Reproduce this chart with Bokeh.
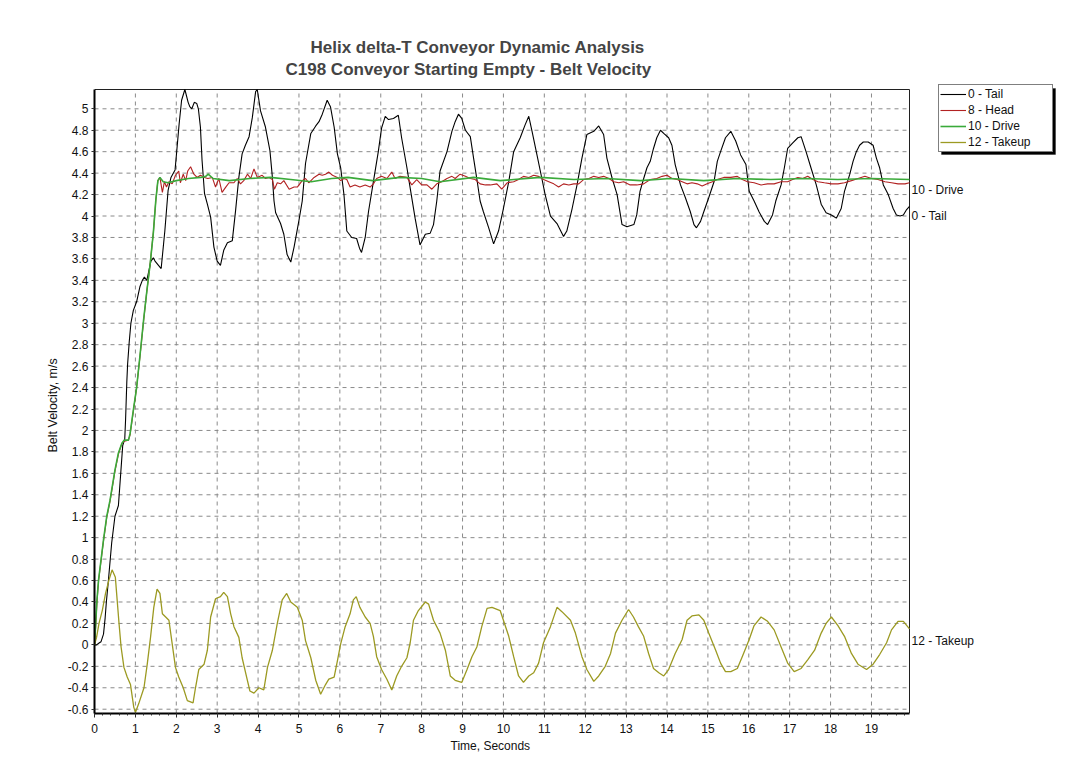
from bokeh.plotting import figure
from bokeh.models import Range1d, FixedTicker, Legend, LegendItem, Label, Title, BoxAnnotation
from bokeh.embed import file_html
from bokeh.resources import INLINE

# ---------------- data ----------------
title_line1 = "Helix delta-T Conveyor Dynamic Analysis"
title_line2 = "C198 Conveyor Starting Empty - Belt Velocity"
x_label = "Time, Seconds"
y_label = "Belt Velocity, m/s"
series_names = ["0 - Tail", "8 - Head", "10 - Drive", "12 - Takeup"]
end_labels = ["10 - Drive", "0 - Tail", "12 - Takeup"]
end_label_y = [4.245, 4.00, 0.04]

x_min, x_max = 0.0, 19.93
y_min, y_max = -0.64, 5.18

x_ticks = [0, 1, 2, 3, 4, 5, 6, 7, 8, 9, 10, 11, 12, 13, 14, 15, 16, 17, 18, 19]
y_ticks = [-0.6, -0.4, -0.2, 0.0, 0.2, 0.4, 0.6, 0.8, 1.0, 1.2, 1.4, 1.6, 1.8, 2.0,
           2.2, 2.4, 2.6, 2.8, 3.0, 3.2, 3.4, 3.6, 3.8, 4.0, 4.2, 4.4, 4.6, 4.8, 5.0]
y_tick_labels = ["-0.6", "-0.4", "-0.2", "0", "0.2", "0.4", "0.6", "0.8", "1", "1.2",
                 "1.4", "1.6", "1.8", "2", "2.2", "2.4", "2.6", "2.8", "3", "3.2", "3.4",
                 "3.6", "3.8", "4", "4.2", "4.4", "4.6", "4.8", "5"]

tail_t = [0, 0.05, 0.12, 0.16, 0.22, 0.26, 0.29, 0.34, 0.42, 0.50, 0.585, 0.66, 0.69, 0.74,
          0.76, 0.79, 0.81, 0.85, 0.89, 0.95, 1.03, 1.11, 1.17, 1.22, 1.28, 1.38, 1.44, 1.48,
          1.63, 1.72, 1.80, 1.87, 1.97, 2.01, 2.07, 2.13, 2.21, 2.29, 2.33, 2.38, 2.44, 2.50,
          2.54, 2.59, 2.63, 2.69, 2.76, 2.84, 2.92, 3.00, 3.08, 3.16, 3.25, 3.37, 3.45, 3.53,
          3.61, 3.69, 3.78, 3.86, 3.94, 3.98, 4.06, 4.18, 4.29, 4.35, 4.39, 4.43, 4.55, 4.63,
          4.71, 4.80, 4.88, 5.00, 5.08, 5.16, 5.29, 5.41, 5.49, 5.57, 5.69, 5.77, 5.86, 5.94,
          6.02, 6.10, 6.17, 6.29, 6.41, 6.48, 6.53, 6.62, 6.70, 6.82, 6.94, 7.02, 7.11, 7.19,
          7.31, 7.43, 7.51, 7.64, 7.72, 7.84, 7.96, 8.09, 8.21, 8.29, 8.37, 8.45, 8.62, 8.74,
          8.82, 8.90, 8.98, 9.07, 9.19, 9.27, 9.36, 9.43, 9.51, 9.64, 9.76, 9.88, 10.00, 10.13,
          10.25, 10.41, 10.53, 10.62, 10.70, 10.82, 10.94, 11.02, 11.15, 11.31, 11.47, 11.55,
          11.68, 11.80, 11.92, 12.04, 12.21, 12.33, 12.45, 12.53, 12.66, 12.78, 12.90, 13.02,
          13.19, 13.26, 13.34, 13.43, 13.51, 13.59, 13.67, 13.75, 13.84, 13.92, 14.04, 14.12,
          14.20, 14.33, 14.45, 14.57, 14.66, 14.72, 14.82, 14.90, 15.02, 15.15, 15.23, 15.31,
          15.43, 15.56, 15.68, 15.80, 15.93, 16.01, 16.13, 16.25, 16.38, 16.46, 16.58, 16.66,
          16.79, 16.87, 16.95, 17.07, 17.20, 17.28, 17.40, 17.52, 17.65, 17.77, 17.89, 18.02,
          18.14, 18.26, 18.34, 18.47, 18.55, 18.63, 18.71, 18.80, 18.92, 19.04, 19.12, 19.20,
          19.29, 19.41, 19.53, 19.61, 19.70, 19.78, 19.86, 19.93]
tail_v = [0.0, 0.0, 0.02, 0.03, 0.10, 0.25, 0.40, 0.60, 0.95, 1.20, 1.30, 1.70, 1.86, 1.92,
          2.10, 2.45, 2.62, 2.83, 3.00, 3.12, 3.20, 3.34, 3.40, 3.43, 3.40, 3.58, 3.61, 3.58,
          3.51, 3.86, 4.24, 4.36, 4.43, 4.60, 4.86, 5.08, 5.18, 5.06, 5.02, 5.00, 5.06, 5.05,
          5.00, 4.83, 4.52, 4.21, 4.11, 3.99, 3.71, 3.58, 3.54, 3.68, 3.75, 3.77, 4.05, 4.36,
          4.58, 4.66, 4.74, 4.92, 5.16, 5.18, 4.98, 4.83, 4.61, 4.36, 4.14, 4.03, 3.93, 3.83,
          3.64, 3.57, 3.71, 3.96, 4.14, 4.49, 4.77, 4.84, 4.88, 4.95, 5.08, 5.02, 4.83, 4.58,
          4.45, 4.20, 3.86, 3.80, 3.79, 3.70, 3.66, 3.80, 4.04, 4.32, 4.60, 4.82, 4.93, 4.90,
          4.91, 4.94, 4.73, 4.45, 4.26, 3.98, 3.73, 3.83, 3.84, 3.92, 4.14, 4.42, 4.60, 4.79,
          4.88, 4.95, 4.91, 4.80, 4.74, 4.54, 4.32, 4.14, 4.04, 3.89, 3.74, 3.86, 4.07, 4.32,
          4.60, 4.73, 4.85, 4.93, 4.79, 4.57, 4.35, 4.20, 4.00, 3.93, 3.81, 3.86,
          4.07, 4.29, 4.54, 4.76, 4.79, 4.84, 4.76, 4.54, 4.35, 4.20, 3.92, 3.90,
          3.92, 4.01, 4.23, 4.35, 4.45, 4.51, 4.63, 4.73, 4.80, 4.77, 4.73, 4.66,
          4.48, 4.29, 4.17, 4.04, 3.92, 3.89, 3.95, 4.04, 4.17, 4.32, 4.51, 4.60,
          4.73, 4.79, 4.70, 4.57, 4.48, 4.23, 4.14, 4.04, 3.95, 3.92, 4.01, 4.14,
          4.29, 4.45, 4.63, 4.68, 4.73, 4.74, 4.60, 4.45, 4.29, 4.11, 4.03, 4.01,
          3.98, 4.07, 4.23, 4.39, 4.51, 4.60, 4.66, 4.69, 4.69, 4.66, 4.54, 4.45,
          4.29, 4.20, 4.07, 4.01, 4.00, 4.01, 4.06, 4.09]

head_t = [0, 0.03, 0.06, 0.10, 0.22, 0.30, 0.38, 0.50, 0.585, 0.67, 0.73, 0.83, 0.87, 0.95,
          1.03, 1.11, 1.20, 1.28, 1.36, 1.44, 1.50, 1.55, 1.60, 1.66, 1.71, 1.76, 1.82, 1.90,
          1.98, 2.06, 2.10, 2.17, 2.23, 2.28, 2.35, 2.43, 2.51, 2.59, 2.69, 2.77, 2.88, 2.96,
          3.04, 3.12, 3.21, 3.29, 3.41, 3.49, 3.57, 3.65, 3.74, 3.82, 3.90, 3.98, 4.10, 4.18,
          4.27, 4.35, 4.40, 4.47, 4.55, 4.63, 4.76, 4.88, 4.96, 5.08, 5.16, 5.24, 5.37, 5.49,
          5.57, 5.65, 5.73, 5.82, 5.94, 6.02, 6.10, 6.17, 6.25, 6.37, 6.49, 6.62, 6.74, 6.82,
          6.90, 7.02, 7.15, 7.27, 7.35, 7.47, 7.64, 7.76, 7.88, 8.00, 8.13, 8.25, 8.37, 8.49,
          8.62, 8.74, 8.82, 8.94, 9.07, 9.19, 9.31, 9.43, 9.56, 9.68, 9.84, 9.96, 10.09, 10.25,
          10.37, 10.49, 10.62, 10.74, 10.86, 10.98, 11.11, 11.23, 11.35, 11.47, 11.60, 11.72,
          11.84, 11.96, 12.09, 12.21, 12.33, 12.45, 12.58, 12.70, 12.82, 12.94, 13.10, 13.26,
          13.43, 13.59, 13.75, 13.88, 14.00, 14.12, 14.25, 14.37, 14.49, 14.61, 14.74, 14.86,
          14.98, 15.11, 15.23, 15.39, 15.56, 15.72, 15.84, 15.97, 16.13, 16.30, 16.46, 16.62,
          16.79, 16.95, 17.07, 17.20, 17.32, 17.44, 17.57, 17.69, 17.85, 18.02, 18.18, 18.34,
          18.51, 18.67, 18.84, 19.00, 19.16, 19.33, 19.49, 19.65, 19.82, 19.93]
head_v = [0.0, 0.18, 0.40, 0.60, 0.97, 1.19, 1.34, 1.62, 1.78, 1.88, 1.90, 1.91, 1.96, 2.18,
          2.40, 2.68, 3.02, 3.30, 3.55, 3.85, 4.15, 4.33, 4.36, 4.22, 4.32, 4.27, 4.32, 4.30,
          4.38, 4.42, 4.31, 4.39, 4.33, 4.42, 4.46, 4.39, 4.36, 4.38, 4.36, 4.35, 4.36, 4.27,
          4.35, 4.22, 4.27, 4.31, 4.31, 4.35, 4.30, 4.33, 4.39, 4.35, 4.44, 4.36, 4.38, 4.35,
          4.36, 4.34, 4.25, 4.31, 4.30, 4.33, 4.25, 4.27, 4.27, 4.33, 4.35, 4.31, 4.36, 4.39,
          4.38, 4.39, 4.41, 4.38, 4.36, 4.33, 4.35, 4.34, 4.27, 4.29, 4.27, 4.29, 4.27, 4.30,
          4.35, 4.37, 4.35, 4.41, 4.35, 4.37, 4.36, 4.29, 4.34, 4.29, 4.29, 4.25, 4.30, 4.32,
          4.35, 4.37, 4.35, 4.39, 4.37, 4.35, 4.34, 4.30, 4.29, 4.29, 4.30, 4.25, 4.31, 4.32,
          4.34, 4.37, 4.36, 4.38, 4.37, 4.34, 4.32, 4.30, 4.27, 4.30, 4.29, 4.30,
          4.30, 4.34, 4.35, 4.37, 4.36, 4.37, 4.35, 4.32, 4.31, 4.32, 4.29, 4.29,
          4.30, 4.34, 4.35, 4.37, 4.38, 4.35, 4.34, 4.32, 4.30, 4.31, 4.30, 4.28,
          4.30, 4.32, 4.34, 4.36, 4.36, 4.37, 4.34, 4.32, 4.31, 4.29, 4.30, 4.30,
          4.32, 4.32, 4.34, 4.36, 4.35, 4.37, 4.34, 4.32, 4.31, 4.30, 4.30, 4.31,
          4.33, 4.35, 4.37, 4.35, 4.34, 4.32, 4.31, 4.30, 4.30, 4.31]

drive_t = [0, 0.03, 0.06, 0.10, 0.22, 0.30, 0.38, 0.50, 0.585, 0.67, 0.73, 0.83, 0.87, 0.95,
           1.03, 1.11, 1.20, 1.28, 1.36, 1.44, 1.50, 1.55, 1.60, 1.68, 1.80, 2.00, 2.30, 2.60,
           2.72, 2.78, 2.90, 3.30, 3.80, 4.30, 4.80, 5.30, 5.80, 6.20, 6.80, 7.47, 8.00, 8.45,
           9.27, 9.92, 10.90, 11.72, 12.53, 13.35, 14.08, 14.90, 15.72, 16.54, 17.36, 18.18,
           19.00, 19.93]
drive_v = [0.0, 0.20, 0.42, 0.61, 0.98, 1.20, 1.35, 1.63, 1.79, 1.88, 1.91, 1.91, 1.97, 2.19,
           2.40, 2.69, 3.03, 3.30, 3.55, 3.85, 4.15, 4.33, 4.36, 4.32, 4.31, 4.33, 4.35, 4.36,
           4.37, 4.39, 4.35, 4.33, 4.35, 4.36, 4.34, 4.32, 4.35, 4.36, 4.33, 4.36, 4.35, 4.32,
           4.36, 4.33, 4.36, 4.34, 4.35, 4.33, 4.35, 4.33, 4.35, 4.34, 4.35, 4.34,
           4.35, 4.34]

takeup_t = [0, 0.05, 0.11, 0.19, 0.27, 0.35, 0.43, 0.51, 0.60, 0.65, 0.72, 0.80, 0.88, 0.96,
            1.00, 1.08, 1.21, 1.29, 1.37, 1.45, 1.53, 1.60, 1.66, 1.74, 1.82, 1.90, 1.98, 2.06,
            2.17, 2.27, 2.41, 2.47, 2.55, 2.68, 2.76, 2.84, 2.96, 3.08, 3.16, 3.25, 3.33, 3.41,
            3.53, 3.61, 3.72, 3.80, 3.90, 4.02, 4.14, 4.23, 4.35, 4.47, 4.59, 4.70, 4.80, 4.96,
            5.08, 5.16, 5.29, 5.41, 5.53, 5.65, 5.73, 5.86, 5.94, 6.02, 6.13, 6.25, 6.33, 6.40,
            6.49, 6.62, 6.74, 6.82, 6.90, 7.02, 7.15, 7.27, 7.39, 7.51, 7.64, 7.72, 7.80, 7.92,
            8.09, 8.17, 8.29, 8.45, 8.58, 8.70, 8.82, 8.98, 9.11, 9.23, 9.35, 9.47, 9.60, 9.72,
            9.92, 10.00, 10.13, 10.25, 10.37, 10.49, 10.62, 10.74, 10.86, 10.98, 11.15, 11.31,
            11.43, 11.64, 11.76, 11.92, 12.04, 12.21, 12.33, 12.49, 12.62, 12.74, 12.90, 13.06,
            13.18, 13.30, 13.43, 13.55, 13.67, 13.80, 13.92, 14.04, 14.20, 14.37, 14.49, 14.61,
            14.78, 14.90, 15.02, 15.19, 15.31, 15.43, 15.56, 15.72, 15.84, 16.01, 16.13, 16.30,
            16.46, 16.62, 16.79, 16.95, 17.11, 17.28, 17.44, 17.61, 17.77, 17.89, 18.02, 18.18,
            18.34, 18.51, 18.67, 18.88, 19.04, 19.20, 19.37, 19.49, 19.65, 19.78, 19.93]
takeup_v = [0.0, 0.07, 0.20, 0.32, 0.48, 0.60, 0.70, 0.63, 0.20, -0.02, -0.21, -0.30, -0.37,
            -0.58, -0.63, -0.55, -0.40, -0.18, 0.07, 0.35, 0.52, 0.48, 0.29, 0.26, 0.23, 0.01,
            -0.21, -0.30, -0.40, -0.52, -0.54, -0.40, -0.23, -0.18, -0.05, 0.26, 0.43, 0.45,
            0.49, 0.45, 0.29, 0.17, 0.07, -0.12, -0.30, -0.43, -0.45, -0.40, -0.42, -0.21,
            -0.05, 0.20, 0.42, 0.48, 0.40, 0.35, 0.23, 0.04, -0.12, -0.33, -0.46, -0.37, -0.32,
            -0.30, -0.15, 0.01, 0.17, 0.29, 0.42, 0.45, 0.35, 0.26, 0.20, 0.08, -0.11, -0.23,
            -0.32, -0.42, -0.29, -0.20, -0.12, 0.02, 0.23, 0.32, 0.40, 0.38, 0.23, 0.11, -0.05,
            -0.29, -0.33, -0.35, -0.23, -0.11, -0.02, 0.17, 0.34, 0.35, 0.32, 0.23, 0.08, -0.11,
            -0.29, -0.35, -0.29, -0.26, -0.17, 0.02, 0.17, 0.35, 0.31, 0.23, 0.11, -0.11, -0.23,
            -0.34, -0.29, -0.20, -0.08, 0.11, 0.23, 0.33, 0.26, 0.17, 0.08, -0.08, -0.22, -0.26,
            -0.29, -0.23, -0.08, 0.05, 0.23, 0.27, 0.28, 0.23, 0.11, -0.05, -0.17, -0.25, -0.25,
            -0.22, -0.11, 0.05, 0.18, 0.26, 0.22, 0.14, -0.02, -0.17, -0.25, -0.22, -0.14,
            -0.05, 0.11, 0.20, 0.26, 0.18, 0.08, -0.08, -0.18, -0.23, -0.18, -0.09, 0.02, 0.14,
            0.22, 0.22, 0.15]

# ---------------- layout ----------------
FONT = "Liberation Sans"
colors = ["#000000", "#b22222", "#3aaa3a", "#9c9a22"]

PLOT_L, PLOT_R, PLOT_T, PLOT_B = 94, 909, 89, 713    # visible plot box (px)
FRAME_R, FRAME_T = 1070, 80                            # enlarged frame so side texts are not clipped
px_x = (PLOT_R - PLOT_L) / (x_max - x_min)
px_y = (PLOT_B - PLOT_T) / (y_max - y_min)
xr_end = x_min + (FRAME_R - PLOT_L) / px_x
yr_end = y_max + (PLOT_T - FRAME_T) / px_y


def dx(px):  # screen px -> data x
    return x_min + (px - PLOT_L) / px_x


def dy(py):  # screen px -> data y
    return y_min + (PLOT_B - py) / px_y


p = figure(frame_width=FRAME_R - PLOT_L, frame_height=PLOT_B - FRAME_T,
           min_border_left=PLOT_L, min_border_right=1079 - FRAME_R,
           min_border_top=FRAME_T, min_border_bottom=780 - PLOT_B,
           x_range=Range1d(x_min, xr_end), y_range=Range1d(y_min, yr_end),
           output_backend="svg", toolbar_location=None, title=None)
p.background_fill_color = "white"
p.border_fill_color = "white"
p.outline_line_color = None
p.xgrid.visible = False
p.ygrid.visible = False

# dashed grid inside the plot box
p.segment(x0=x_ticks[1:], y0=[y_min] * (len(x_ticks) - 1), x1=x_ticks[1:],
          y1=[y_max] * (len(x_ticks) - 1), line_color="#8a8a8a", line_dash="4 4", line_width=1)
p.segment(x0=[x_min] * len(y_ticks), y0=y_ticks, x1=[x_max] * len(y_ticks), y1=y_ticks,
          line_color="#8a8a8a", line_dash="4 4", line_width=1)
# top and right border of plot box
p.segment(x0=[x_min, x_max], y0=[y_max, y_min], x1=[x_max, x_max], y1=[y_max, y_max],
          line_color="#202020", line_width=1)

r_tail = p.line(tail_t, tail_v, line_color=colors[0], line_width=1.1)
r_head = p.line(head_t, head_v, line_color=colors[1], line_width=1.1)
r_drive = p.line(drive_t, drive_v, line_color=colors[2], line_width=1.6)
r_take = p.line(takeup_t, takeup_v, line_color=colors[3], line_width=1.3)

# axes
p.xaxis.ticker = FixedTicker(ticks=x_ticks, minor_ticks=[i * 0.2 for i in range(100)])
p.yaxis.ticker = FixedTicker(ticks=y_ticks)
p.xaxis.bounds = (x_min, x_max)
p.yaxis.bounds = (y_min, y_max)
p.yaxis.major_label_overrides = {t: l for t, l in zip(y_ticks, y_tick_labels)}
for ax in (p.xaxis[0], p.yaxis[0]):
    ax.axis_line_width = 2
    ax.axis_line_color = "black"
    ax.major_tick_line_color = "#303030"
    ax.major_label_text_font = FONT
    ax.major_label_text_font_size = "12px"
    ax.major_label_text_color = "#111111"
p.xaxis.major_tick_in = 0
p.xaxis.major_tick_out = 4
p.xaxis.minor_tick_in = 0
p.xaxis.minor_tick_out = 2
p.xaxis.minor_tick_line_color = "#303030"
p.xaxis.major_label_standoff = 6
p.yaxis.major_tick_in = 0
p.yaxis.major_tick_out = 3
p.yaxis.minor_tick_line_color = None
p.yaxis.major_label_standoff = 3

# axis titles positioned over the plot box (not the enlarged frame)
p.add_layout(Title(text=x_label, text_font=FONT, text_font_size="12px",
                   text_font_style="normal", text_color="#111111",
                   align="left", offset=356, standoff=2), "below")
p.add_layout(Title(text=y_label, text_font=FONT, text_font_size="12.5px",
                   text_font_style="normal", text_color="#111111",
                   align="left", offset=PLOT_B - 452, standoff=9), "left")

# titles (added nearest-frame first)
p.add_layout(Title(text=title_line2, text_font=FONT, text_font_size="17px",
                   text_font_style="bold", align="left", offset=191, standoff=3), "above")
p.add_layout(Title(text=title_line1, text_font=FONT, text_font_size="17px",
                   text_font_style="bold", align="left", offset=216, standoff=0), "above")

# end-of-line labels
for txt, yv in zip(end_labels, end_label_y):
    p.add_layout(Label(x=x_max, y=yv, text=txt, x_offset=2, text_baseline="middle",
                       text_font=FONT, text_font_size="12px", text_color="#111111"))

# legend with drop shadow
p.add_layout(BoxAnnotation(left=dx(941), right=dx(1055), top=dy(88), bottom=dy(154),
                           fill_color="black", fill_alpha=1, line_color="black"))
main = Legend(items=[LegendItem(label=n, renderers=[r]) for n, r in
                     zip(series_names, [r_tail, r_head, r_drive, r_take])],
              location=(938 - PLOT_L, PLOT_B - 152))
main.background_fill_color = "white"
main.background_fill_alpha = 1
main.border_line_color = "black"
main.border_line_width = 1
main.label_text_font = FONT
main.label_text_font_size = "12px"
main.label_text_color = "#111111"
main.padding = 1
main.spacing = 0
main.margin = 0
main.label_height = 16
main.glyph_height = 16
main.glyph_width = 26
main.label_standoff = 2
main.label_width = 83
p.add_layout(main, "center")

open("out.html", "w").write(file_html(p, INLINE))
